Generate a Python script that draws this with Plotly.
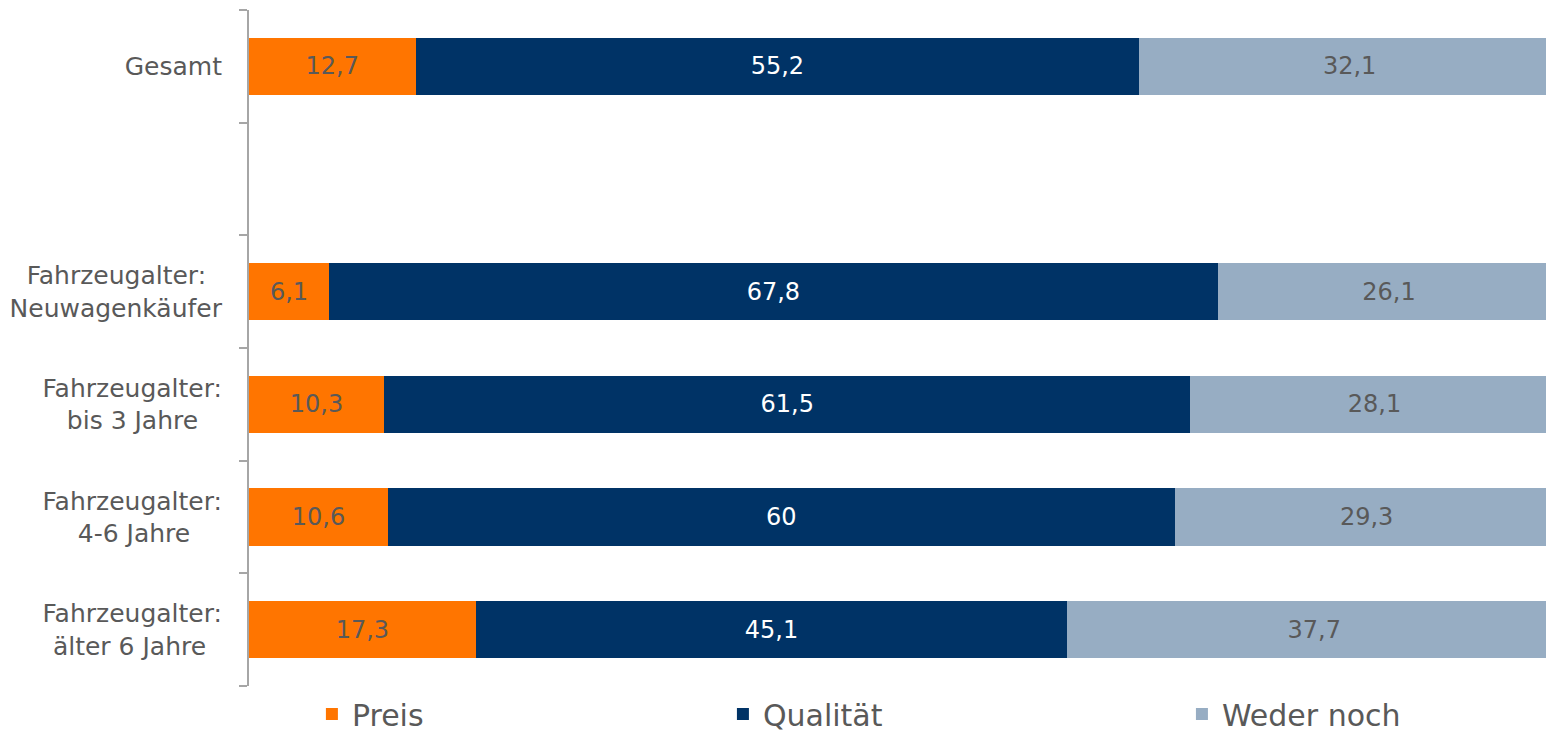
import plotly.graph_objects as go

# categories top to bottom; the blank one is the gap row between "Gesamt" and the age groups
categories = [
    "Gesamt",
    " ",
    "Fahrzeugalter: Neuwagenkäufer",
    "Fahrzeugalter: bis 3 Jahre",
    "Fahrzeugalter: 4-6 Jahre",
    "Fahrzeugalter: älter 6 Jahre",
]
# axis labels as shown (two lines, padded so the lines look centred like in Excel)
NB = "\u00a0"
tick_labels = [
    "Gesamt",
    "",
    "Fahrzeugalter:" + NB * 2 + "<br>Neuwagenkäufer",
    "Fahrzeugalter:<br>bis 3 Jahre" + NB * 3,
    "Fahrzeugalter:<br>4-6 Jahre" + NB * 4,
    "Fahrzeugalter:<br>älter 6 Jahre" + NB * 2,
]
preis = [12.7, None, 6.1, 10.3, 10.6, 17.3]
qualitaet = [55.2, None, 67.8, 61.5, 60, 45.1]
weder_noch = [32.1, None, 26.1, 28.1, 29.3, 37.7]

FONT = "DejaVu Sans, Verdana, sans-serif"
TEXT_GREY = "#595959"

series = [
    ("Preis", preis, "#FF7500", TEXT_GREY, "legend", 0.0485),
    ("Qualität", qualitaet, "#003366", "#FFFFFF", "legend2", 0.3654),
    ("Weder noch", weder_noch, "#97ADC3", TEXT_GREY, "legend3", 0.7193),
]

fig = go.Figure()
for name, vals, color, txt_color, leg, _ in series:
    fig.add_trace(go.Bar(
        y=categories,
        x=vals,
        name=name,
        orientation="h",
        marker=dict(color=color, line_width=0),
        texttemplate="%{x}",
        textposition="inside",
        insidetextanchor="middle",
        textfont=dict(color=txt_color, size=24, family=FONT),
        legend=leg,
        hoverinfo="skip",
    ))

legend_style = dict(
    orientation="h",
    y=-0.0414,
    yanchor="middle",
    xanchor="left",
    font=dict(size=30, color=TEXT_GREY, family=FONT),
    bgcolor="rgba(0,0,0,0)",
)

fig.update_layout(
    barmode="stack",
    bargap=0.49,
    separators=",.",
    width=1546,
    height=734,
    margin=dict(l=249, r=0, t=10, b=48, autoexpand=False),
    plot_bgcolor="white",
    paper_bgcolor="white",
    font=dict(family=FONT, color=TEXT_GREY),
    showlegend=True,
    legend=dict(legend_style, x=series[0][5]),
    legend2=dict(legend_style, x=series[1][5]),
    legend3=dict(legend_style, x=series[2][5]),
    xaxis=dict(
        range=[0, 98.93],
        visible=False,
        fixedrange=True,
    ),
    yaxis=dict(
        categoryorder="array",
        categoryarray=categories,
        tickvals=categories,
        ticktext=tick_labels,
        autorange="reversed",
        showline=True,
        linecolor="#A6A6A6",
        linewidth=2,
        ticks="outside",
        tickson="boundaries",
        ticklen=8,
        tickwidth=2,
        tickcolor="#A6A6A6",
        showgrid=False,
        tickfont=dict(size=25, color=TEXT_GREY, family=FONT),
        ticklabelstandoff=20,
    ),
)

# drop the browser's default 8px body margin so the figure fills the window exactly
fig.write_html(
    "out.html",
    config={"displayModeBar": False},
    post_script="document.body.style.margin='0';document.body.style.overflow='hidden';",
)
